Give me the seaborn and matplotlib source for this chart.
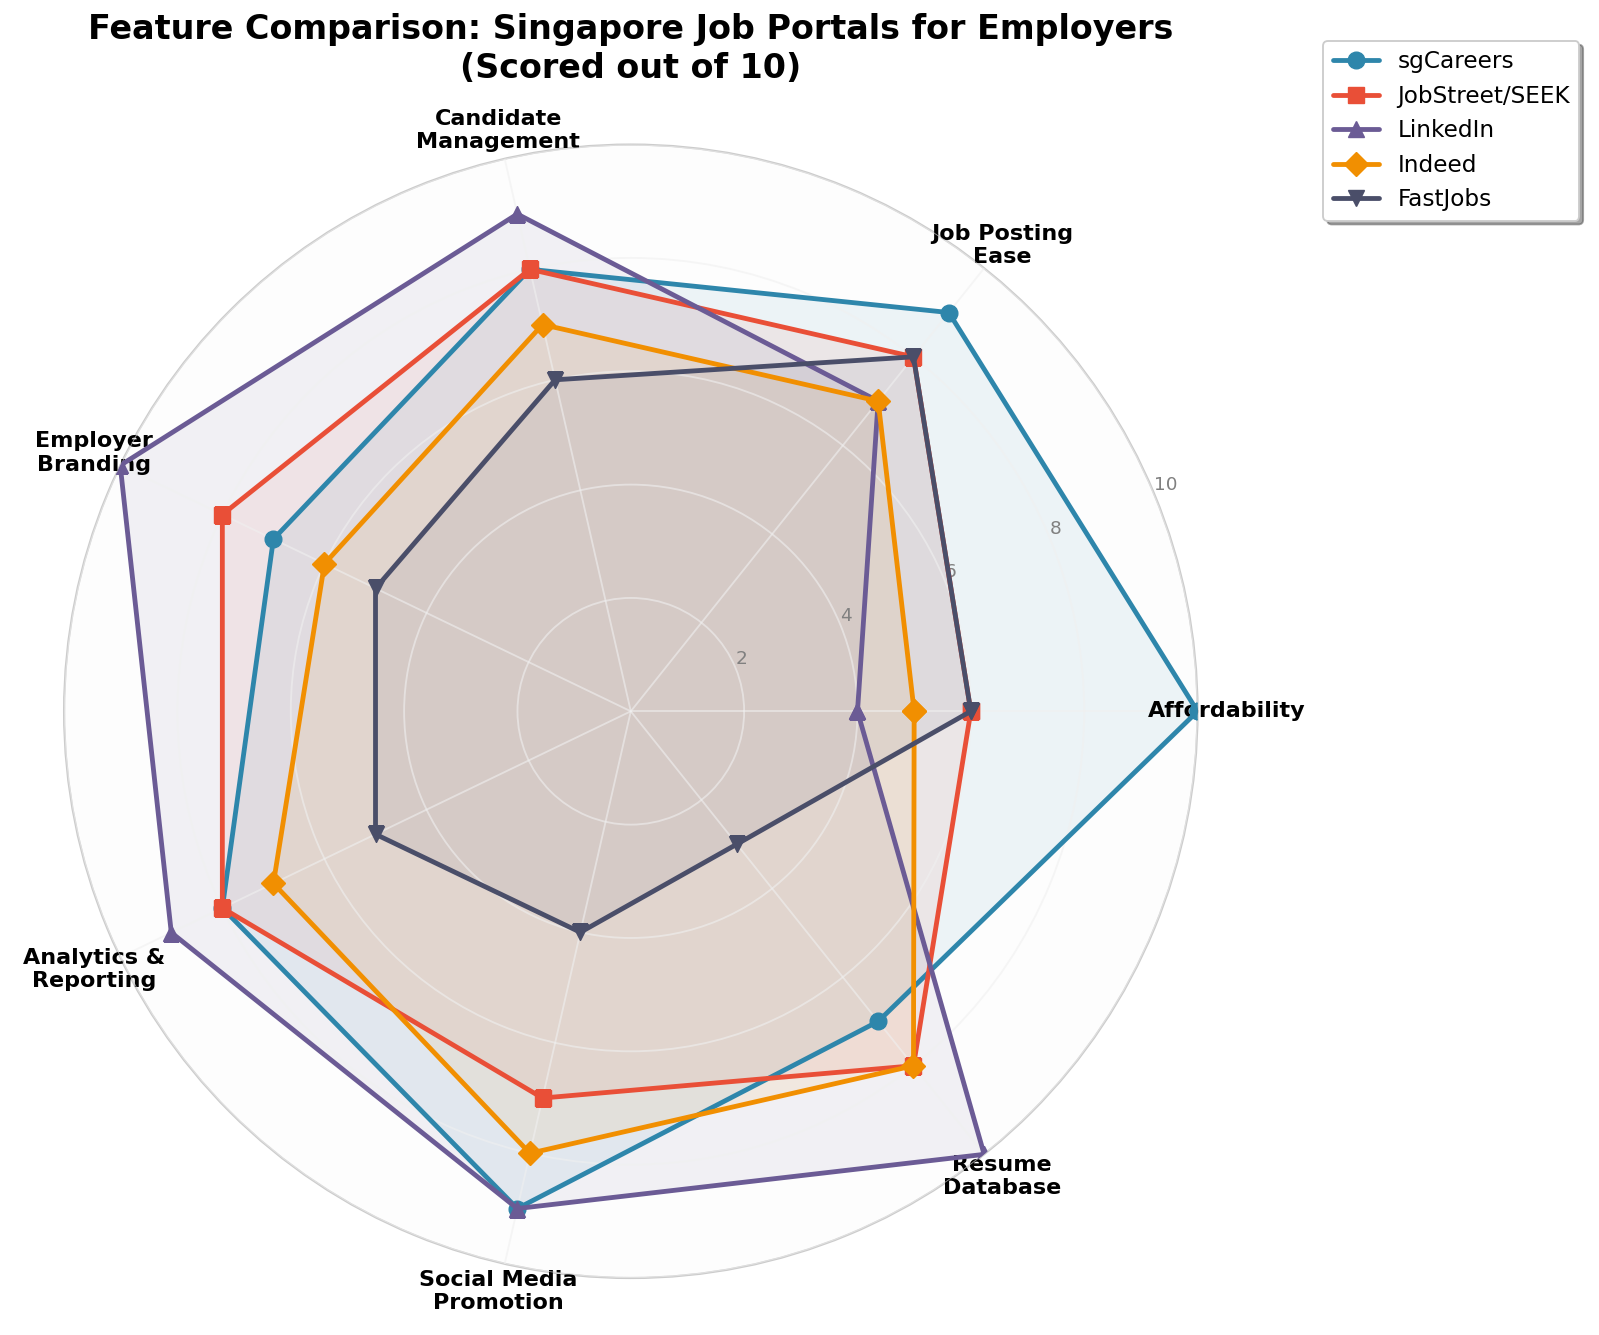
import numpy as np
import pandas as pd
import matplotlib
matplotlib.use("Agg")
import matplotlib.pyplot as plt
import seaborn as sns

categories = ["Affordability", "Job Posting\nEase", "Candidate\nManagement",
              "Employer\nBranding", "Analytics &\nReporting", "Social Media\nPromotion",
              "Resume\nDatabase"]
portals = ["sgCareers", "JobStreet/SEEK", "LinkedIn", "Indeed", "FastJobs"]
sgcareers = [10, 9, 8, 7, 8, 9, 7]
jobstreet = [6, 8, 8, 8, 8, 7, 8]
linkedin = [4, 7, 9, 10, 9, 9, 10]
indeed = [5, 7, 7, 6, 7, 8, 8]
fastjobs = [6, 8, 6, 5, 5, 4, 3]
series = [sgcareers, jobstreet, linkedin, indeed, fastjobs]
colors = ["#2E86AB", "#E94F37", "#6B5B95", "#F18F01", "#4A4E69"]
markers = ["o", "s", "^", "D", "v"]
rticks = [2, 4, 6, 8, 10]

sns.set_style("whitegrid")
plt.rcParams["font.family"] = ["DejaVu Sans"]
plt.rcParams["text.color"] = "black"

DPI = 133.3
fig = plt.figure(figsize=(1599 / DPI, 1335 / DPI), dpi=DPI)
ax = fig.add_axes([0.040, 0.0427, 0.709, 0.849], projection="polar")
ax.set_facecolor("#FDFDFD")

n = len(categories)
angles = np.linspace(0, 2 * np.pi, n, endpoint=False)
angles_closed = np.concatenate([angles, angles[:1]])

for name, vals, c, m in zip(portals, series, colors, markers):
    v = np.array(vals + vals[:1], dtype=float)
    df = pd.DataFrame({"angle": angles_closed, "score": v})
    sns.lineplot(data=df, x="angle", y="score", ax=ax, color=c, marker=m,
                 markersize=9, linewidth=2.6, markeredgecolor=c, label=name,
                 sort=False, estimator=None, legend=False, zorder=3)
    ax.fill(angles_closed, v, color=c, alpha=0.08, zorder=1)

ax.set_ylim(0, 10)
ax.set_yticks(rticks)
ax.set_yticklabels([str(t) for t in rticks], color="grey", fontsize=10)
ax.set_xticks(angles)
ax.set_xticklabels(categories, fontsize=12, fontweight="bold", color="black")
ax.tick_params(axis="x", pad=5)
ax.set_xlabel("")
ax.set_ylabel("")
ax.set_axisbelow(False)
ax.grid(color="#F0F0F0", linewidth=1, alpha=0.6, zorder=2)
for gl in ax.xaxis.get_gridlines() + ax.yaxis.get_gridlines():
    gl.set_zorder(2)
ax.spines["polar"].set_color("#CCCCCC")
ax.spines["polar"].set_linewidth(1.2)

fig.suptitle("Feature Comparison: Singapore Job Portals for Employers\n(Scored out of 10)",
             x=631 / 1599, y=0.990, va="top", fontsize=18, fontweight="bold", color="black")

handles, labels = ax.get_legend_handles_labels()
leg = ax.legend(handles, labels, loc="upper right", bbox_to_anchor=(0.995, 0.978),
                bbox_transform=fig.transFigure, fontsize=12.5, frameon=True, shadow=True,
                fancybox=True, framealpha=1)
for t in leg.get_texts():
    t.set_color("black")

fig.savefig("out.png", dpi=DPI)
